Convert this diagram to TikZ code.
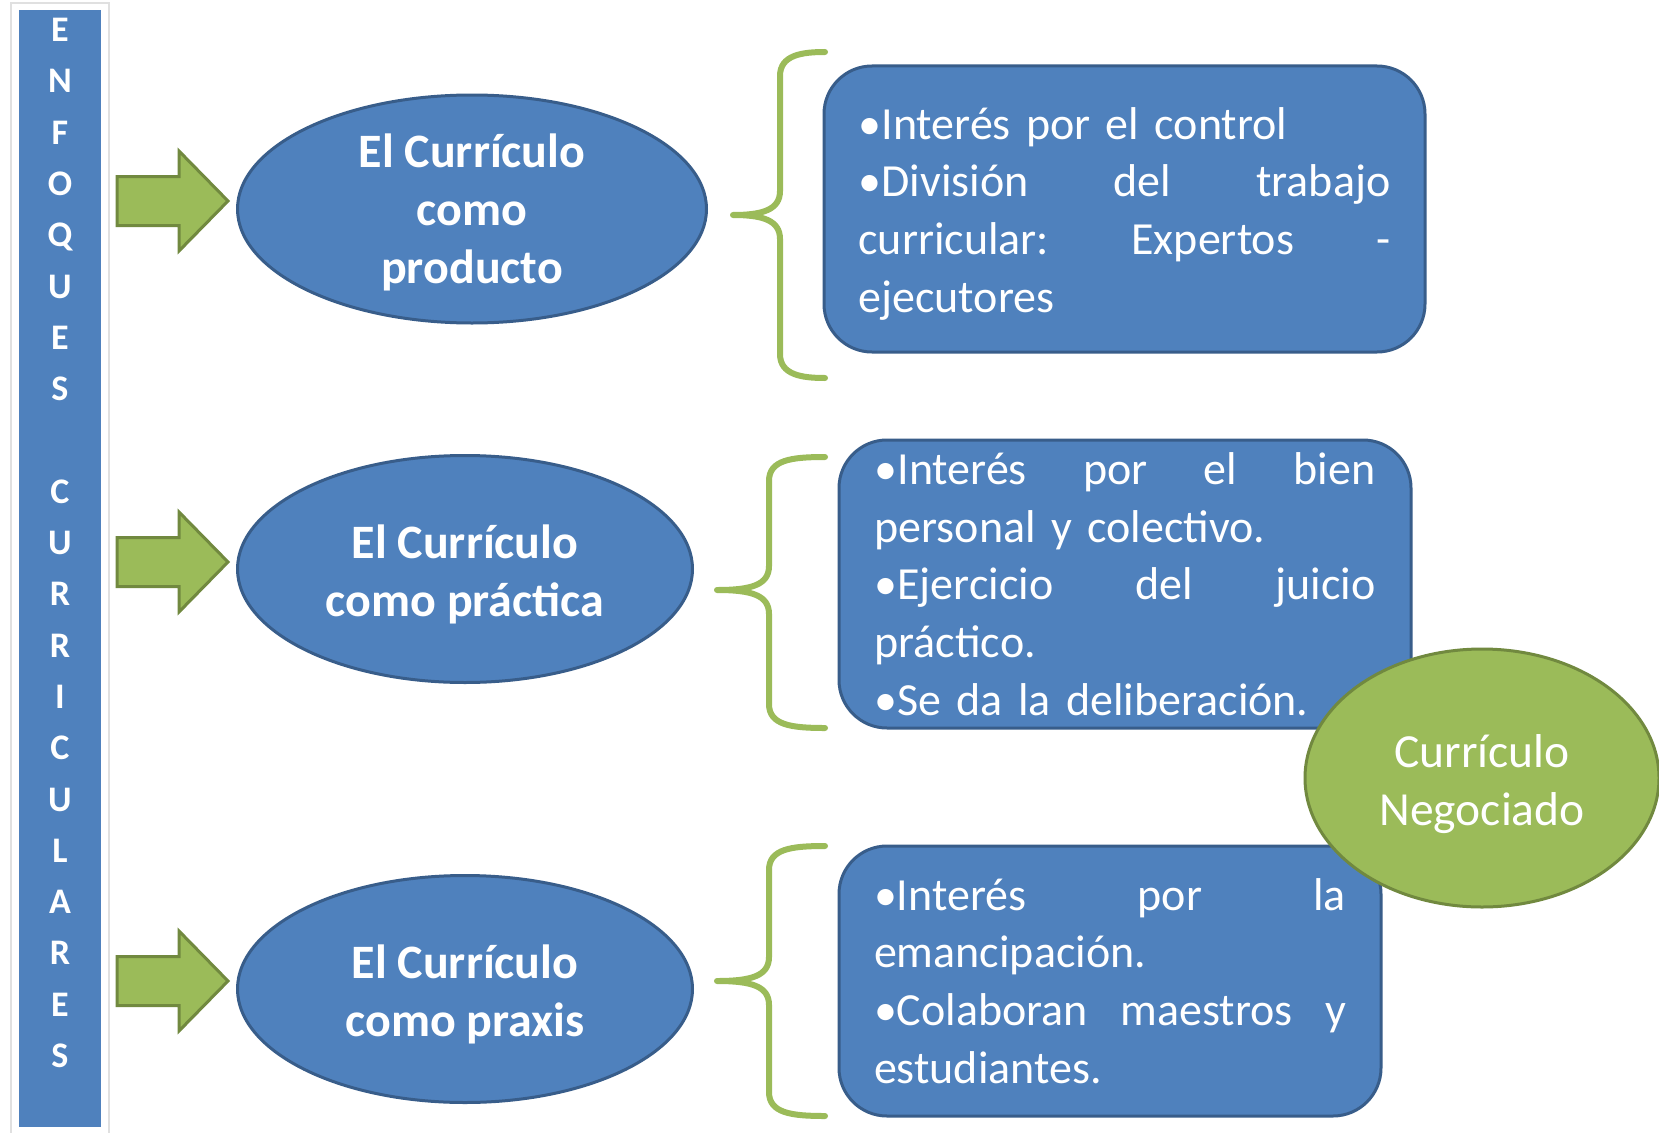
\documentclass[tikz,border=0pt]{standalone}
\usepackage{fontspec}
\setmainfont{Carlito}
\usetikzlibrary{shapes.geometric}
\definecolor{bfill}{HTML}{4F81BD}
\definecolor{bline}{HTML}{385D8A}
\definecolor{gfill}{HTML}{9BBB59}
\definecolor{gline}{HTML}{71893F}
\newcommand{\jl}[2]{\makebox[#1pt][l]{#2}}
\newcommand{\topr}[1][45]{\rule{0pt}{#1pt}}
\newcommand{\greenarrowat}[1]{%
  \draw[bigarrow] (#1) ++(0,-24.5) -- ++(62,0) -- ++(0,-25.5) -- ++(49,50) -- ++(-49,50) -- ++(0,-25.5) -- ++(-62,0) -- cycle;}
\newcommand{\curlybrace}[6]{%
  \draw[bracestyle] (#6,#1) .. controls (#5+22,#1) and (#5,#1+3) .. (#5,#1+24) -- (#5,#2-24)
    .. controls (#5,#2-5) and (#5-18,#2) .. (#4,#2)
    .. controls (#5-18,#2) and (#5,#2+5) .. (#5,#2+24) -- (#5,#3-24)
    .. controls (#5,#3-3) and (#5+22,#3) .. (#6,#3);}
\tikzset{
  blueell/.style={ellipse, draw=bline, line width=3, fill=bfill, text=white,
    font=\bfseries\fontsize{48}{58}\selectfont, align=center, inner xsep=0, inner ysep=-20},
  bluebox/.style={rectangle, rounded corners=48, draw=bline, line width=3, fill=bfill,
    text=white, font=\fontsize{46}{57.7}\selectfont, align=left, inner sep=0},
  greenell/.style={ellipse, draw=gline, line width=3, fill=gfill, text=white,
    font=\fontsize{47.5}{58}\selectfont, align=center, inner sep=0},
  bigarrow/.style={fill=gfill, draw=gline, line width=3, line join=miter},
  bracestyle/.style={draw=gfill, line width=6, line cap=round, line join=round},
}
\begin{document}
\begin{tikzpicture}[x=1pt,y=-1pt]
\useasboundingbox (0,0) rectangle (1659,1132);
\fill[white] (0,0) rectangle (1659,1132);
% left bar
\draw[black!12, line width=2] (11,3) rectangle (109,1140);
\node[fill=bfill, minimum width=82, minimum height=1117, inner sep=0, anchor=north west] (bar) at (19,10) {};
\node[anchor=north, inner sep=0, text=white, font=\bfseries\fontsize{36}{51.3}\selectfont, align=center] (barlabel) at (60,18)
  {E\\N\\F\\O\\Q\\U\\E\\S\\\mbox{}\\C\\U\\R\\R\\I\\C\\U\\L\\A\\R\\E\\S};
% arrows
\coordinate (a1) at (117,201);
\coordinate (a2) at (117,562);
\coordinate (a3) at (117,981);
\greenarrowat{a1}
\greenarrowat{a2}
\greenarrowat{a3}
% ellipses
\node[blueell, minimum width=469, minimum height=228] (e1) at (472,209) {\topr[41]El Currículo\\como\\producto};
\node[blueell, minimum width=455, minimum height=227] (e2) at (465,569) {\topr El Currículo\\como práctica};
\node[blueell, minimum width=455, minimum height=227] (e3) at (465,989) {\topr El Currículo\\como praxis};
% braces
\curlybrace{52}{215}{378}{733}{780}{825}
\curlybrace{457}{590}{728}{717}{769}{825}
\curlybrace{846}{981}{1116}{717}{769}{825}
% boxes
\node[bluebox, minimum width=601, minimum height=286, text width=532] (b1) at (1124.5,209)
  {\topr[41]•Interés por el control\\\jl{532}{•División\hfill del\hfill trabajo}\\\jl{532}{curricular:\hfill Expertos\hfill -}\\ejecutores};
\node[bluebox, minimum width=572, minimum height=288, text width=501] (b2) at (1125,584)
  {\jl{501}{•Interés\hfill por\hfill el\hfill bien}\\personal y colectivo.\\\jl{501}{•Ejercicio\hfill del\hfill juicio}\\práctico.\\•Se da la deliberación.};
\node[bluebox, minimum width=542, minimum height=270, text width=472] (b3) at (1110,981)
  {\jl{472}{•Interés\hfill por\hfill la}\\emancipación.\\\jl{472}{•Colaboran\hfill maestros\hfill y}\\estudiantes.};
% negotiated curriculum
\node[greenell, minimum width=354, minimum height=258] (neg) at (1482,778) {\topr Currículo\\Negociado};
\end{tikzpicture}
\end{document}
